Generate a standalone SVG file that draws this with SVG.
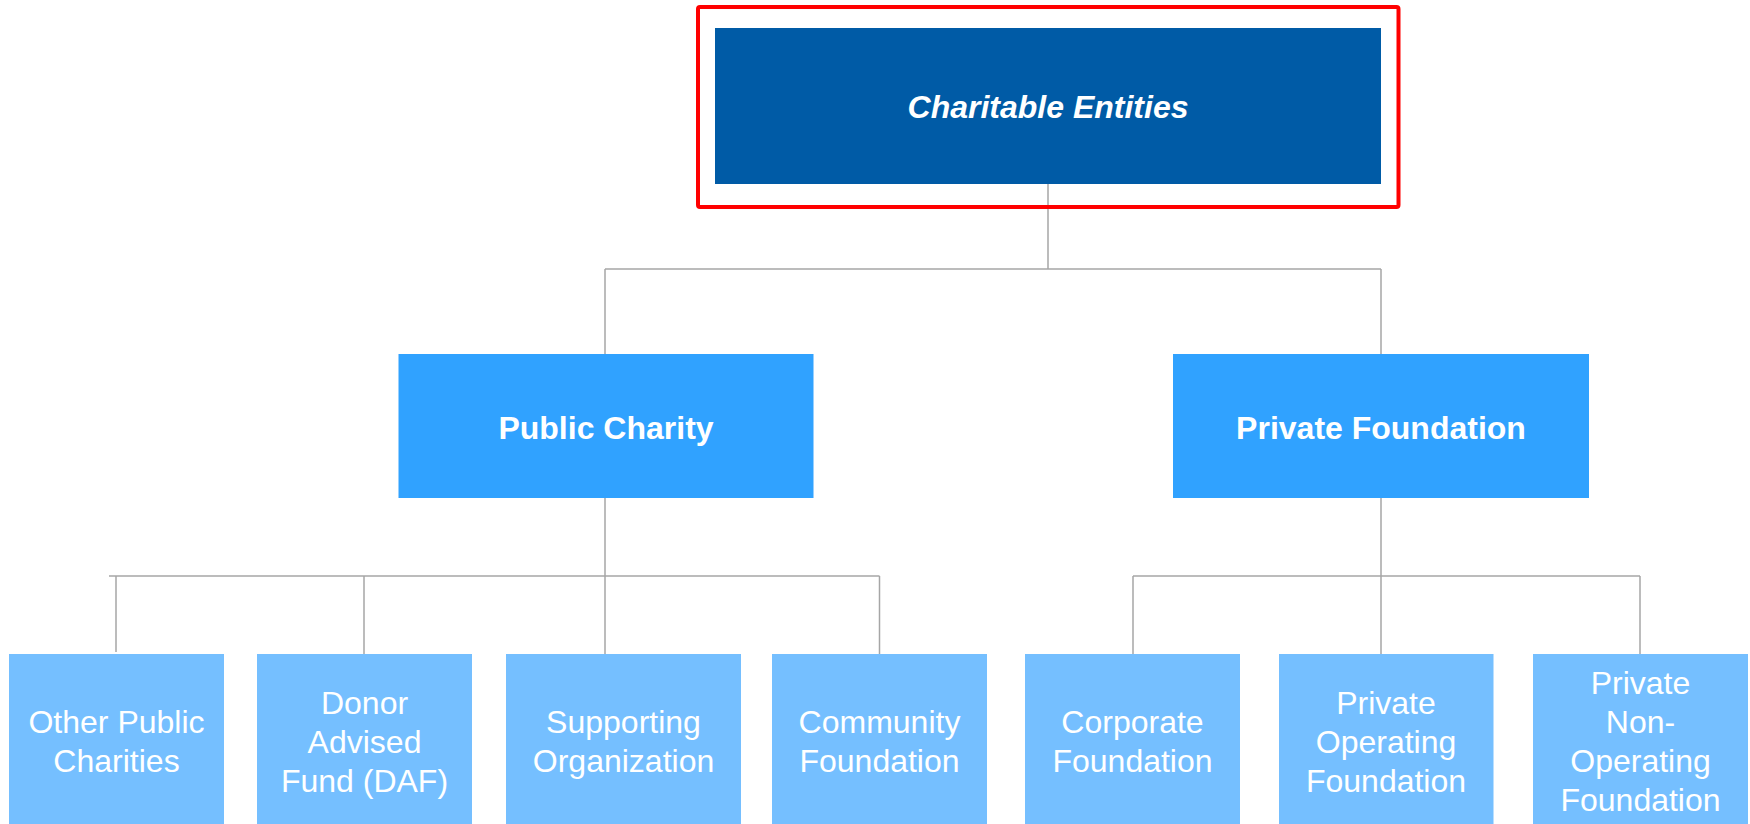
<svg xmlns="http://www.w3.org/2000/svg" width="1750" height="824" viewBox="0 0 1750 824">
<style>
.conn{stroke:#A6A6A6;stroke-width:1.5;fill:none}
.root{fill:#005BA6}
.mid{fill:#30A2FF}
.leaf{fill:#75BFFF}
.t{font-family:"Liberation Sans",Arial,sans-serif;fill:#FFFFFF;text-anchor:middle;font-size:32px}
.b{font-weight:bold}
.i{font-style:italic}
</style>
<rect width="1750" height="824" fill="#FFFFFF"/>
<g id="connectors">
<path class="conn" d="M1048,184 V269 M605,269 H1381 M605,269 V354 M1381,269 V354"/>
<path class="conn" d="M605,498 V576 M109,576 H879.5 M116,576 V652 M364,576 V654 M605,576 V654 M879.5,576 V654"/>
<path class="conn" d="M1381,498 V654 M1133,576 H1640 M1133,576 V654 M1640,576 V654"/>
</g>
<g id="highlight">
<rect x="698" y="7" width="700.5" height="200" rx="2" fill="none" stroke="#FF0000" stroke-width="4"/>
</g>
<g id="charitable-entities">
<rect class="root" x="715" y="28" width="666" height="156"/>
<text class="t b i" x="1048" y="118">Charitable Entities</text>
</g>
<g id="public-charity">
<rect class="mid" x="398.5" y="354" width="415" height="144"/>
<text class="t b" x="606" y="439">Public Charity</text>
</g>
<g id="private-foundation">
<rect class="mid" x="1173" y="354" width="416" height="144"/>
<text class="t b" x="1381" y="439">Private Foundation</text>
</g>
<g id="other-public-charities">
<rect class="leaf" x="9" y="654" width="215" height="176"/>
<text class="t" x="116.5" y="733">Other Public</text>
<text class="t" x="116.5" y="772">Charities</text>
</g>
<g id="donor-advised-fund">
<rect class="leaf" x="257" y="654" width="215" height="176"/>
<text class="t" x="364.5" y="714">Donor</text>
<text class="t" x="364.5" y="753">Advised</text>
<text class="t" x="364.5" y="792">Fund (DAF)</text>
</g>
<g id="supporting-organization">
<rect class="leaf" x="506" y="654" width="235" height="176"/>
<text class="t" x="623.5" y="733">Supporting</text>
<text class="t" x="623.5" y="772">Organization</text>
</g>
<g id="community-foundation">
<rect class="leaf" x="772" y="654" width="215" height="176"/>
<text class="t" x="879.5" y="733">Community</text>
<text class="t" x="879.5" y="772">Foundation</text>
</g>
<g id="corporate-foundation">
<rect class="leaf" x="1025" y="654" width="215" height="176"/>
<text class="t" x="1132.5" y="733">Corporate</text>
<text class="t" x="1132.5" y="772">Foundation</text>
</g>
<g id="private-operating-foundation">
<rect class="leaf" x="1279" y="654" width="214.5" height="176"/>
<text class="t" x="1386" y="714">Private</text>
<text class="t" x="1386" y="753">Operating</text>
<text class="t" x="1386" y="792">Foundation</text>
</g>
<g id="private-non-operating-foundation">
<rect class="leaf" x="1533" y="654" width="215" height="176"/>
<text class="t" x="1640.5" y="694">Private</text>
<text class="t" x="1640.5" y="733">Non-</text>
<text class="t" x="1640.5" y="772">Operating</text>
<text class="t" x="1640.5" y="811">Foundation</text>
</g>
</svg>
